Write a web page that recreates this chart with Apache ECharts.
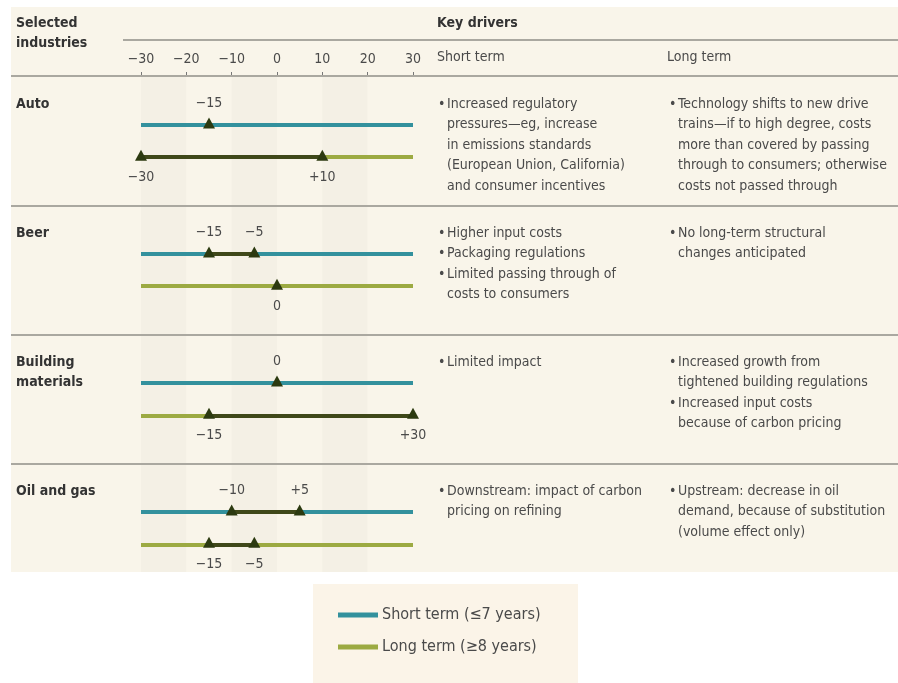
<!DOCTYPE html>
<html>
<head>
<meta charset="utf-8">
<script src="https://cdn.jsdelivr.net/npm/echarts@6/dist/echarts.min.js"></script>
<style>html,body{margin:0;padding:0;background:#fff}#c{width:898px;height:683px}</style>
</head>
<body>
<div id="c"></div>
<script>
// ---- data ----
const industries = ['Auto', 'Beer', 'Building\nmaterials', 'Oil and gas'];
const shortLow  = [-15, -15, 0, -10];
const shortHigh = [-15,  -5, 0,   5];
const longLow   = [-30,   0, -15, -15];
const longHigh  = [ 10,   0,  30,  -5];
const xTicks = [-30, -20, -10, 0, 10, 20, 30];
const shortDrivers = [
  [['Increased regulatory', 'pressures\u2014eg, increase', 'in emissions standards', '(European Union, California)', 'and consumer incentives']],
  [['Higher input costs'], ['Packaging regulations'], ['Limited passing through of', 'costs to consumers']],
  [['Limited impact']],
  [['Downstream: impact of carbon', 'pricing on refining']]
];
const longDrivers = [
  [['Technology shifts to new drive', 'trains\u2014if to high degree, costs', 'more than covered by passing', 'through to consumers; otherwise', 'costs not passed through']],
  [['No long-term structural', 'changes anticipated']],
  [['Increased growth from', 'tightened building regulations'], ['Increased input costs', 'because of carbon pricing']],
  [['Upstream: decrease in oil', 'demand, because of substitution', '(volume effect only)']]
];
const seriesNames = ['Short term (\u22647 years)', 'Long term (\u22658 years)'];

// ---- layout / style ----
const FONT = "'Liberation Sans Narrow', 'DejaVu Sans Condensed', sans-serif";
const C_SHORT = '#33919d', C_LONG = '#9caa42', C_RANGE = '#3f4819', C_MARK = '#2c3a10';
const TXT = '#4a4a4a';
const LONG_OFF = 0.25, SEP_OFF = 0.625;
const fmt = v => v > 0 ? '+' + v : (v < 0 ? '\u2212' + (-v) : '0');

const chart = echarts.init(document.getElementById('c'), null, {renderer: 'canvas'});

const shortTrack = industries.map((_, i) => ({coords: [[xTicks[0], i], [xTicks[xTicks.length - 1], i]]}));
const longTrack = industries.map((_, i) => ({coords: [[xTicks[0], i + LONG_OFF], [xTicks[xTicks.length - 1], i + LONG_OFF]]}));
const ranges = [];
industries.forEach((_, i) => {
  if (shortHigh[i] !== shortLow[i]) ranges.push({coords: [[shortLow[i], i], [shortHigh[i], i]]});
  if (longHigh[i] !== longLow[i]) ranges.push({coords: [[longLow[i], i + LONG_OFF], [longHigh[i], i + LONG_OFF]]});
});
const shortPts = [], longPts = [];
industries.forEach((_, i) => {
  shortPts.push([shortLow[i], i]);
  if (shortHigh[i] !== shortLow[i]) shortPts.push([shortHigh[i], i]);
  longPts.push([longLow[i], i + LONG_OFF]);
  if (longHigh[i] !== longLow[i]) longPts.push([longHigh[i], i + LONG_OFF]);
});

const option = {
  animation: false,
  backgroundColor: '#ffffff',
  grid: {left: 141, right: 485, top: 77, bottom: 111},
  xAxis: {
    type: 'value', position: 'top', min: -30, max: 30, interval: 10,
    axisLine: {show: false, onZero: false},
    axisTick: {show: true, length: 5, lineStyle: {color: '#777', width: 1}},
    axisLabel: {formatter: v => v < 0 ? '\u2212' + (-v) : String(v), margin: 11, color: TXT, fontSize: 14, fontFamily: FONT},
    splitLine: {show: false},
    splitArea: {show: true, areaStyle: {color: ['#f4f0e5', '#f9f5ea']}}
  },
  yAxis: {type: 'value', min: -0.372, max: 3.465, inverse: true, show: false},
  legend: {
    orient: 'vertical', left: 333, top: 602, itemWidth: 38, itemHeight: 3, itemGap: 16,
    textStyle: {fontSize: 16, color: TXT, fontFamily: FONT},
    selectedMode: false,
    data: [
      {name: seriesNames[0], icon: 'rect', itemStyle: {color: C_SHORT}},
      {name: seriesNames[1], icon: 'rect', itemStyle: {color: C_LONG}}
    ]
  },
  series: [
    {type: 'lines', name: seriesNames[0], coordinateSystem: 'cartesian2d', z: 2, lineStyle: {color: C_SHORT, width: 4, opacity: 1}, data: shortTrack},
    {type: 'lines', name: seriesNames[1], coordinateSystem: 'cartesian2d', z: 2, lineStyle: {color: C_LONG, width: 4, opacity: 1}, data: longTrack},
    {type: 'lines', name: 'range', coordinateSystem: 'cartesian2d', z: 3, lineStyle: {color: C_RANGE, width: 4, opacity: 1}, data: ranges},
    {type: 'scatter', name: 'shortMarks', z: 4, symbol: 'triangle', symbolSize: [12, 11], symbolOffset: [0, -2],
     itemStyle: {color: C_MARK, opacity: 1},
     label: {show: true, position: 'top', distance: 7, formatter: p => fmt(p.value[0]), color: TXT, fontSize: 14, fontFamily: FONT},
     data: shortPts},
    {type: 'scatter', name: 'longMarks', z: 4, symbol: 'triangle', symbolSize: [12, 11], symbolOffset: [0, -2],
     itemStyle: {color: C_MARK, opacity: 1},
     label: {show: true, position: 'bottom', distance: 10, formatter: p => fmt(p.value[0]), color: TXT, fontSize: 14, fontFamily: FONT},
     data: longPts}
  ]
};
chart.setOption(option);

// ---- table graphics ----
const px = (x, y) => chart.convertToPixel({xAxisIndex: 0, yAxisIndex: 0}, [x, y]);
const g = [];
g.push({type: 'rect', silent: true, z: -100, shape: {x: 11, y: 7, width: 887, height: 565}, style: {fill: '#f9f5ea'}});
g.push({type: 'rect', silent: true, z: -100, shape: {x: 313, y: 584, width: 265, height: 99}, style: {fill: '#fbf4e8'}});
const hline = (x1, x2, y) => g.push({type: 'line', silent: true, z: 5, shape: {x1, y1: y, x2, y2: y}, style: {stroke: '#aaa8a0', lineWidth: 2}});
hline(123, 898, 40);
hline(11, 898, 76);
for (let i = 0; i < industries.length - 1; i++) hline(11, 898, Math.round(px(0, i + SEP_OFF)[1]));
const txt = (text, x, y, opts) => g.push({type: 'text', silent: true, z: 6, x, y,
  style: Object.assign({text, fill: TXT, font: '14px ' + FONT, lineHeight: 20.5, verticalAlign: 'top'}, opts || {})});
txt('Selected\nindustries', 16, 13, {font: 'bold 14px ' + FONT, fill: '#333', lineHeight: 20});
txt('Key drivers', 437, 13, {font: 'bold 14px ' + FONT, fill: '#333'});
txt('Short term', 437, 47);
txt('Long term', 667, 47);
industries.forEach((name, i) => {
  const yTop = px(0, i)[1] - 31;
  txt(name, 16, yTop, {font: 'bold 14px ' + FONT, fill: '#333', lineHeight: 20});
  [[shortDrivers[i], 438], [longDrivers[i], 669]].forEach(([bullets, bx]) => {
    let y = yTop;
    bullets.forEach(lines => {
      txt('\u2022', bx, y);
      txt(lines.join('\n'), bx + 9, y);
      y += lines.length * 20.5;
    });
  });
});
chart.setOption({graphic: g});
</script>
</body>
</html>
